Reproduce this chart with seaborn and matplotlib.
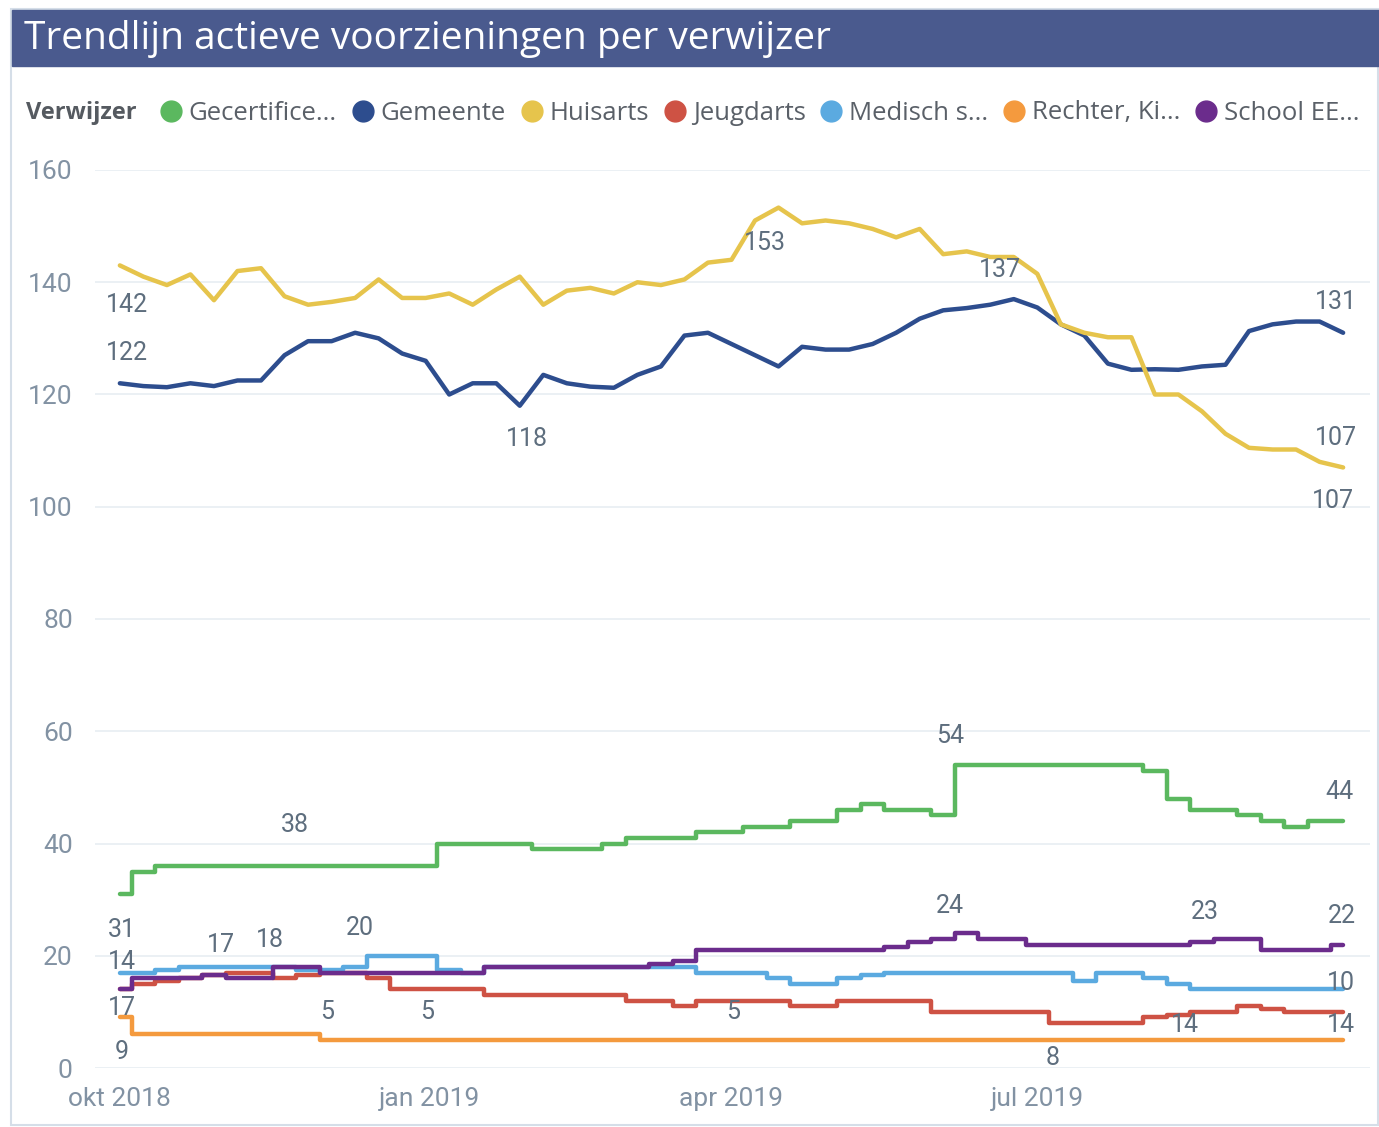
import pandas as pd
import matplotlib
matplotlib.use("Agg")
import matplotlib.pyplot as plt
from matplotlib.lines import Line2D
from matplotlib.patches import Rectangle
import seaborn as sns

# weekly readings, okt 2018 - sep 2019
datums = pd.date_range("2018-10-01", periods=53, freq="7D")

gecertificeerd = [31, 35, 36, 36, 36, 36, 36, 36, 36, 36, 36, 36, 36, 36, 40, 40, 40, 40, 39, 39,
                  39, 40, 41, 41, 41, 42, 42, 43, 43, 44, 44, 46, 47, 46, 46, 45, 54, 54, 54, 54,
                  54, 54, 54, 54, 53, 48, 46, 46, 45, 44, 43, 44, 44]
gemeente = [122, 121.5, 121.3, 122, 121.5, 122.5, 122.5, 127, 129.5, 129.5, 131, 130, 127.3, 126,
            120, 122, 122, 118, 123.5, 122, 121.4, 121.2, 123.5, 125, 130.5, 131, 129, 127, 125,
            128.5, 128, 128, 129, 131, 133.5, 135, 135.4, 136, 137, 135.5, 132.5, 130.5, 125.5,
            124.4, 124.5, 124.4, 125, 125.3, 131.3, 132.5, 133, 133, 131]
huisarts = [143, 141, 139.5, 141.4, 136.8, 142, 142.5, 137.5, 136, 136.5, 137.2, 140.5, 137.2,
            137.2, 138, 136, 138.7, 141, 136, 138.5, 139, 138, 140, 139.5, 140.5, 143.5, 144,
            151, 153.3, 150.5, 151, 150.5, 149.5, 148, 149.5, 145, 145.5, 144.5, 144.5, 141.5,
            132.5, 131, 130.2, 130.2, 120, 120, 117, 113, 110.5, 110.2, 110.2, 108, 107]
jeugdarts = [14, 15, 15.5, 16, 16.5, 17, 17, 16, 16.5, 17, 17, 16, 14, 14, 14, 14, 13, 13, 13, 13,
             13, 13, 12, 12, 11, 12, 12, 12, 12, 11, 11, 12, 12, 12, 12, 10, 10, 10, 10, 10,
             8, 8, 8, 8, 9, 9.5, 10, 10, 11, 10.5, 10, 10, 10]
medisch = [17, 17, 17.5, 18, 18, 18, 18, 18, 17.5, 17.5, 18, 20, 20, 20, 17.5, 17, 18, 18, 18, 18,
           18, 18, 18, 18, 18, 17, 17, 17, 16, 15, 15, 16, 16.5, 17, 17, 17, 17, 17, 17, 17,
           17, 15.5, 17, 17, 16, 15, 14, 14, 14, 14, 14, 14, 14]
rechter = [9, 6, 6, 6, 6, 6, 6, 6, 6, 5, 5, 5, 5, 5, 5, 5, 5, 5, 5, 5, 5, 5, 5, 5, 5, 5, 5,
           5, 5, 5, 5, 5, 5, 5, 5, 5, 5, 5, 5, 5, 5, 5, 5, 5, 5, 5, 5, 5, 5, 5, 5, 5, 5]
school = [14, 16, 16, 16, 16.5, 16, 16, 18, 18, 17, 17, 17, 17, 17, 17, 17, 18, 18, 18, 18, 18,
          18, 18, 18.5, 19, 21, 21, 21, 21, 21, 21, 21, 21, 21.5, 22.5, 23, 24, 23, 23, 22, 22,
          22, 22, 22, 22, 22, 22.5, 23, 23, 21, 21, 21, 22]

verwijzers = ["Gecertifice...", "Gemeente", "Huisarts", "Jeugdarts", "Medisch s...",
              "Rechter, Ki...", "School EE..."]
kleuren = ["#5BB85F", "#2D4D8E", "#E6C44C", "#CE5244", "#5BAAE0", "#F49A3E", "#6B2C8C"]

# data labels as Power BI placed them: (text, days after 1 okt 2018, value)
labels = [("142", 2, 136), ("122", 2, 127.4), ("118", 121, 112), ("153", 192, 147),
          ("137", 262, 142.2), ("131", 362, 136.5), ("107", 362, 112.3), ("107", 361, 101),
          ("38", 52, 43.3), ("54", 247, 59.2), ("44", 363, 49.2),
          ("31", 0.5, 24.6), ("14", 0.5, 18.9), ("17", 0.5, 10.7), ("9", 0.5, 2.9),
          ("17", 30, 21.9), ("18", 44.6, 22.8), ("20", 71.4, 25), ("5", 61.6, 10),
          ("5", 91.4, 10), ("5", 182.4, 10), ("24", 247, 28.9), ("23", 323, 27.8),
          ("22", 363.5, 27.1), ("10", 363.5, 15.2), ("14", 317, 7.7), ("14", 363.5, 7.7),
          ("8", 277.7, 1.8)]

series = [gecertificeerd, gemeente, huisarts, jeugdarts, medisch, rechter, school]
df = pd.DataFrame({"datum": datums})
for naam, waarden in zip(verwijzers, series):
    df[naam] = waarden
lang = df.melt(id_vars="datum", var_name="Verwijzer", value_name="aantal")
kleur_map = dict(zip(verwijzers, kleuren))

# grote reeksen (Gemeente, Huisarts) grillig, kleine reeksen trapsgewijs
grillig = lang["Verwijzer"].isin(["Gemeente", "Huisarts"])

sns.set_style("white")
plt.rcParams["font.family"] = ["Open Sans", "DejaVu Sans"]

fig = plt.figure(figsize=(13.79, 11.27), dpi=100)
ax = fig.add_axes([95 / 1379, 59 / 1127, 1275 / 1379, 898 / 1127])

sns.lineplot(data=lang[~grillig], x="datum", y="aantal", hue="Verwijzer", palette=kleur_map,
             linewidth=3.2, legend=False, drawstyle="steps-mid", ax=ax)
sns.lineplot(data=lang[grillig], x="datum", y="aantal", hue="Verwijzer", palette=kleur_map,
             linewidth=3.2, legend=False, ax=ax)

start = pd.Timestamp("2018-10-01")
ax.set_xlim(start - pd.Timedelta(days=7.4), start + pd.Timedelta(days=372))
ax.set_ylim(0, 160)
ax.set_yticks(range(0, 161, 20))
ax.set_xticks(pd.to_datetime(["2018-10-01", "2019-01-01", "2019-04-01", "2019-07-01"]))
ax.set_xticklabels(["okt 2018", "jan 2019", "apr 2019", "jul 2019"])
ax.set_xlabel("")
ax.set_ylabel("")
ax.tick_params(axis="both", length=0, labelsize=19, labelcolor="#8292A3")
ax.tick_params(axis="y", pad=16)
ax.tick_params(axis="x", pad=14)
for t in ax.get_yticklabels() + ax.get_xticklabels():
    t.set_family(["Roboto", "DejaVu Sans"])
ax.grid(axis="y", color="#E8EDF2", linewidth=1.2)
ax.set_axisbelow(True)
for s in ax.spines.values():
    s.set_visible(False)

for tekst, dag, waarde in labels:
    ax.text(start + pd.Timedelta(days=dag), waarde, tekst, ha="center", va="center",
            fontsize=18, color="#5E6E7E", family=["Roboto", "DejaVu Sans"])

# frame and title bar
fig.patches.append(Rectangle((11 / 1379, 2 / 1127), 1367 / 1379, 1116 / 1127,
                             transform=fig.transFigure, fill=False, edgecolor="#D5DEE8",
                             linewidth=1.5))
fig.patches.append(Rectangle((12 / 1379, 1 - 66 / 1127), 1367 / 1379, 56 / 1127,
                             transform=fig.transFigure, color="#4A5A8E"))
fig.text(24 / 1379, 1 - 39 / 1127, "Trendlijn actieve voorzieningen per verwijzer",
         color="white", fontsize=28, va="center", ha="left")

# legend
fig.text(26 / 1379, 1 - 113 / 1127, "Verwijzer", fontsize=17, fontweight="bold",
         color="#555A60", va="center", ha="left")
handles = [Line2D([], [], marker="o", linestyle="", markersize=15, color=k) for k in kleuren]
fig.legend(handles, verwijzers, loc="center left", bbox_to_anchor=(158 / 1379, 1 - 113 / 1127),
           ncol=7, frameon=False, fontsize=18.5, handlelength=1.0, handletextpad=0.2,
           columnspacing=0.5, labelcolor="#5A6068", borderaxespad=0, borderpad=0)

fig.savefig("out.png", dpi=100)
